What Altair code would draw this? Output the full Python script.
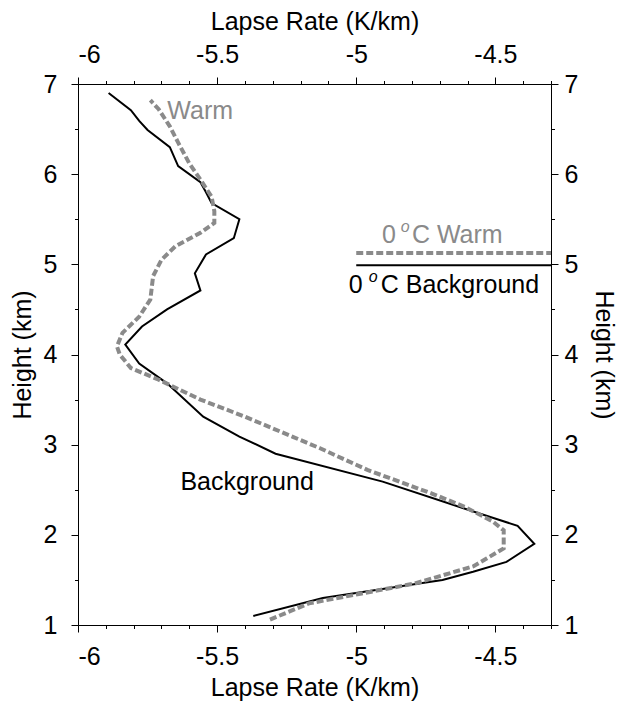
import altair as alt
import pandas as pd

# ---- data ----
bg_height = [1.10, 1.30, 1.43, 1.50, 1.59, 1.70, 1.90, 2.10, 2.30, 2.59, 2.90, 3.09, 3.31, 3.68,
             3.90, 4.11, 4.31, 4.50, 4.71, 4.90, 5.11, 5.29, 5.50, 5.68, 5.80, 5.91, 6.09, 6.30,
             6.49, 6.59, 6.71, 6.90]
bg_rate = [-5.37, -5.12, -4.84, -4.69, -4.58, -4.46, -4.36, -4.42, -4.62, -4.905, -5.29, -5.42,
           -5.55, -5.68, -5.78, -5.83, -5.77, -5.68, -5.56, -5.58, -5.54, -5.44, -5.42, -5.52,
           -5.54, -5.56, -5.64, -5.67, -5.75, -5.78, -5.81, -5.89]

warm_height = [1.06, 1.24, 1.35, 1.46, 1.65, 1.74, 1.85, 2.05, 2.15, 2.31, 2.46, 2.72, 2.96, 3.09,
               3.31, 3.50, 3.72, 3.85, 4.00, 4.09, 4.24, 4.42, 4.61, 4.87, 5.05, 5.20, 5.35, 5.46,
               5.59, 5.75, 5.94, 6.12, 6.35, 6.53, 6.72, 6.82]
warm_rate = [-5.31, -5.17, -4.98, -4.79, -4.58, -4.53, -4.47, -4.47, -4.51, -4.61, -4.73, -4.96,
             -5.13, -5.23, -5.40, -5.56, -5.71, -5.81, -5.85, -5.86, -5.84, -5.78, -5.74, -5.73,
             -5.70, -5.65, -5.56, -5.51, -5.51, -5.52, -5.56, -5.60, -5.64, -5.67, -5.71, -5.74]

# freezing level (0 oC) heights
freeze_bg = 4.99
freeze_warm = 5.125
freeze_x = [-5.0, -4.3]

x_major = [-6, -5.5, -5, -4.5]
x_minor = [round(-6 + 0.1 * i, 1) for i in range(18)]
y_major = [1, 2, 3, 4, 5, 6, 7]
y_minor = [1.5, 2.5, 3.5, 4.5, 5.5, 6.5]

XDOM = [-6, -4.3]
YDOM = [1, 7]
FONT = "Liberation Sans"
FS = 25
GRAY = "#8a8a8a"

bg_df = pd.DataFrame({"h": bg_height, "v": bg_rate})
warm_df = pd.DataFrame({"h": warm_height, "v": warm_rate})
fz_bg_df = pd.DataFrame({"h": [freeze_bg], "v": [freeze_x[0]], "v2": [freeze_x[1]]})
fz_warm_df = pd.DataFrame({"h": [freeze_warm], "v": [freeze_x[0]], "v2": [freeze_x[1]]})

xs = alt.Scale(domain=XDOM, nice=False, zero=False)
ys = alt.Scale(domain=YDOM, nice=False, zero=False)


def major_x(orient):
    return alt.Axis(orient=orient, values=x_major, labelExpr="datum.value + ''", tickSize=7,
                    labelPadding=12 if orient == "bottom" else 10, title="Lapse Rate (K/km)",
                    titlePadding=6 if orient == "bottom" else 8, grid=False,
                    domainColor="black", tickColor="black")


def minor_x(orient):
    return alt.Axis(orient=orient, values=x_minor, labels=False, tickSize=3.5, domain=False,
                    title=None, grid=False, tickColor="black")


def major_y(orient):
    return alt.Axis(orient=orient, values=y_major, labelExpr="datum.value + ''", tickSize=7,
                    labelPadding=14 if orient == "left" else 6, title="Height (km)",
                    titlePadding=8 if orient == "left" else 13, grid=False,
                    domainColor="black", tickColor="black")


def minor_y(orient):
    return alt.Axis(orient=orient, values=y_minor, labels=False, tickSize=3.5, domain=False,
                    title=None, grid=False, tickColor="black")


bg_line = alt.Chart(bg_df).mark_line(color="black", strokeWidth=2).encode(
    x=alt.X("v:Q", scale=xs, axis=major_x("bottom")),
    y=alt.Y("h:Q", scale=ys, axis=major_y("left")),
    order="h:Q",
)

warm_line = alt.Chart(warm_df).mark_line(color=GRAY, strokeWidth=4, strokeDash=[7, 3]).encode(
    x=alt.X("v:Q", scale=xs, axis=major_x("top")),
    y=alt.Y("h:Q", scale=ys, axis=major_y("right")),
    order="h:Q",
)

fz_bg = alt.Chart(fz_bg_df).mark_rule(color="black", strokeWidth=2).encode(
    x=alt.X("v:Q", scale=xs, axis=minor_x("bottom")),
    x2="v2:Q",
    y=alt.Y("h:Q", scale=ys, axis=minor_y("left")),
)

fz_warm = alt.Chart(fz_warm_df).mark_rule(color=GRAY, strokeWidth=4, strokeDash=[7, 3]).encode(
    x=alt.X("v:Q", scale=xs, axis=minor_x("top")),
    x2="v2:Q",
    y=alt.Y("h:Q", scale=ys, axis=minor_y("right")),
)

# text labels
label_df = pd.DataFrame({
    "v": [-5.679, -5.632, -4.907, -4.800, -5.027, -4.912],
    "h": [6.613, 2.498, 5.236, 5.236, 4.681, 4.681],
    "t": ["Warm", "Background", "0", "C Warm", "0", "C Background"],
    "c": [GRAY, "black", GRAY, GRAY, "black", "black"],
})
sup_df = pd.DataFrame({
    "v": [-4.840, -4.955],
    "h": [5.236, 4.681],
    "t": ["o", "o"],
    "c": [GRAY, "black"],
})

labels = alt.Chart(label_df).mark_text(align="left", baseline="alphabetic", font=FONT,
                                        fontSize=FS).encode(
    x=alt.X("v:Q", scale=xs, axis=None),
    y=alt.Y("h:Q", scale=ys, axis=None),
    text="t:N",
    color=alt.Color("c:N", scale=None),
)

sups = alt.Chart(sup_df).mark_text(align="left", baseline="alphabetic", font=FONT,
                                    fontSize=16, fontStyle="italic", dy=-11).encode(
    x=alt.X("v:Q", scale=xs, axis=None),
    y=alt.Y("h:Q", scale=ys, axis=None),
    text="t:N",
    color=alt.Color("c:N", scale=None),
)

chart = alt.layer(bg_line, warm_line, fz_bg, fz_warm, labels, sups).resolve_axis(
    x="independent", y="independent"
).properties(
    width=473, height=541,
    padding={"left": 78, "top": 84, "right": 68, "bottom": 77},
    autosize=alt.AutoSizeParams(type="none"),
    background="white",
).configure_view(stroke=None).configure_axis(
    labelFont=FONT, titleFont=FONT, labelFontSize=FS, titleFontSize=FS,
    titleFontWeight="normal", labelColor="black", titleColor="black",
    domainWidth=1, tickWidth=1,
)

chart.save("out.html", embed_options={"renderer": "svg", "actions": False})
